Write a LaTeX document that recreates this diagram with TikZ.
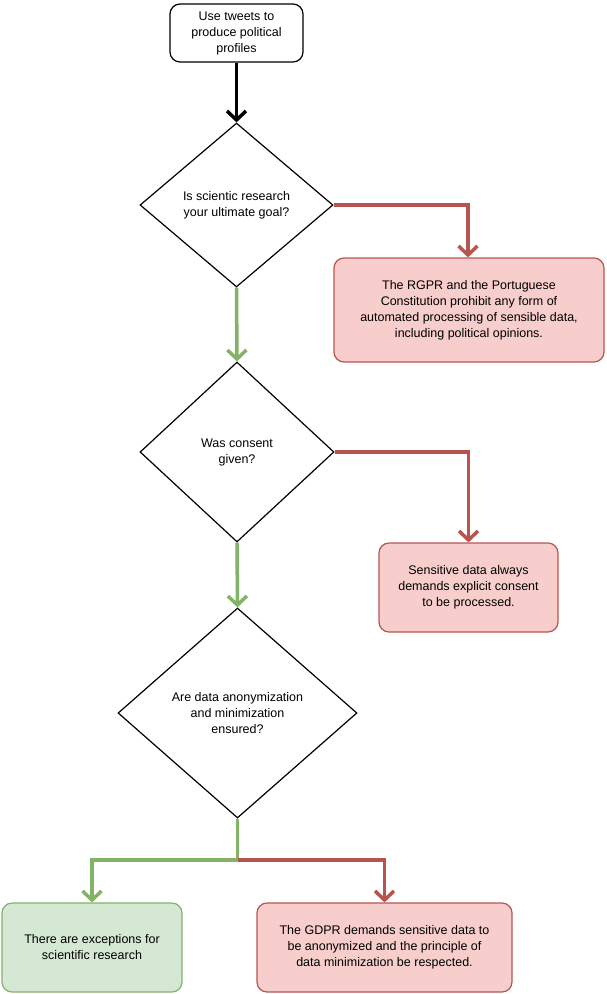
\documentclass[tikz,border=0pt]{standalone}
\usepackage{fontspec}
\setmainfont{Liberation Sans}
\usetikzlibrary{shapes.geometric,arrows.meta}
\definecolor{rf}{HTML}{F8CECC}\definecolor{rs}{HTML}{B85450}
\definecolor{gf}{HTML}{D5E8D4}\definecolor{gs}{HTML}{82B366}
\begin{document}
\begin{tikzpicture}[x=1pt,y=-1pt,font=\fontsize{12.5}{16}\selectfont,
 box/.style={draw,rounded corners=10pt,align=center,inner sep=0pt,line width=1.2pt},
 red/.style={box,fill=rf,draw=rs},green/.style={box,fill=gf,draw=gs},
 dia/.style={draw,diamond,inner sep=0pt,align=center,line width=1.2pt},
 arr/.style={line width=3.5pt,-{Straight Barb[length=9pt,width=19pt,line width=3.5pt]}},
 ra/.style={arr,draw=rs},ga/.style={arr,draw=gs}]
\useasboundingbox (0,0) rectangle (606,994);
\node[box,minimum width=133pt,minimum height=58pt] (s) at (236.5,33) {Use tweets to\\produce political\\profiles};
\node[dia,minimum width=193pt,minimum height=164pt] (d1) at (236.5,205) {};
\node (t1) at (236.5,205) [align=center] {Is scientic research\\your ultimate goal?};
\node[red,minimum width=270pt,minimum height=104pt] (r1) at (469,310) {The RGPR and the Portuguese\\Constitution prohibit any form of\\automated processing of sensible data,\\including political opinions.};
\node[dia,minimum width=194pt,minimum height=180pt] (d2) at (237,452) {};
\node (t2) at (237,452) [align=center] {Was consent\\given?};
\node[red,minimum width=179pt,minimum height=89pt] (r2) at (468.5,587.5) {Sensitive data always\\demands explicit consent\\to be processed.};
\node[dia,minimum width=239pt,minimum height=210pt] (d3) at (237.5,713) {};
\node (t3) at (237.5,713) [align=center] {Are data anonymization\\and minimization\\ ensured?};
\node[green,minimum width=180pt,minimum height=89pt] (g) at (92,947.5) {There are exceptions for\\scientific research};
\node[red,minimum width=255pt,minimum height=89pt] (r3) at (384.5,947.5) {The GDPR demands sensitive data to\\be anonymized and the principle of\\data minimization be respected.};
\coordinate (j) at (237.5,860);
\draw[arr] (s.south) -- (d1.north);
\draw[ra] (d1.east) -| (r1.north -| 468,0);
\draw[ga] (d1.south) -- (d2.north);
\draw[ra] (d2.east) -| (r2.north);
\draw[ga] (d2.south) -- (d3.north);
\draw[ga] (d3.south) -- (j) -| (g.north);
\draw[ra] (j) -| (r3.north);
\end{tikzpicture}
\end{document}
